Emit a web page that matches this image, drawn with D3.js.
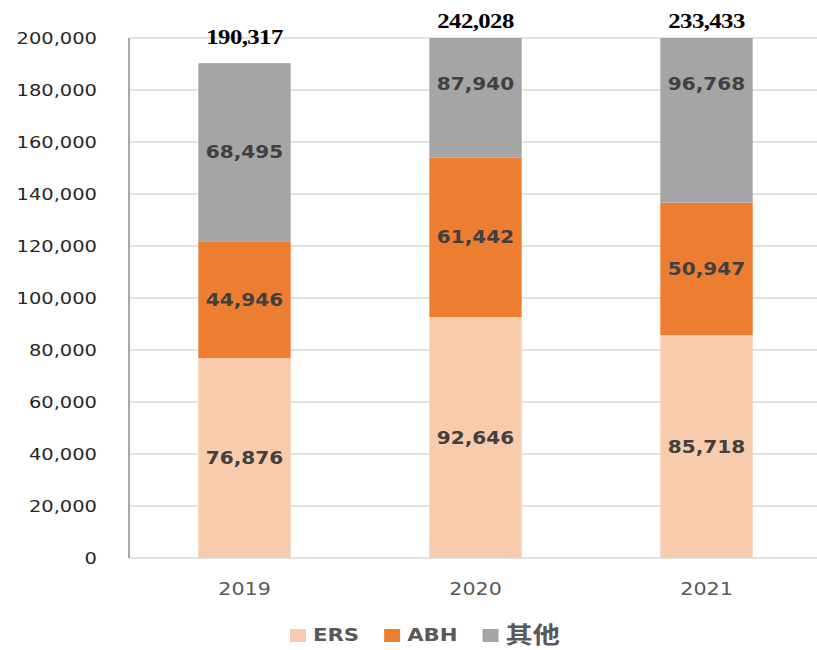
<!DOCTYPE html>
<html>
<head>
<meta charset="utf-8">
<script src="https://cdn.jsdelivr.net/npm/d3@7"></script>
<style>
  body { margin: 0; background: #fff; }
</style>
</head>
<body>
<script>
// data
const years = ['2019', '2020', '2021'];
const seriesNames = ['ERS', 'ABH', '其他'];
const ers = [76876, 92646, 85718];
const abh = [44946, 61442, 50947];
const other = [68495, 87940, 96768];
const totals = [190317, 242028, 233433];
const yTicks = [0, 20000, 40000, 60000, 80000, 100000, 120000, 140000, 160000, 180000, 200000];

const colors = ['#F8CBAD', '#ED7D31', '#A5A5A5'];
const sx = 1.18; // text in the picture is a bit wide

let width = 817, height = 650;
let plot = {left: 129, right: 822, top: 38, bottom: 558};

let svg = d3.select('body').append('svg')
    .attr('width', width)
    .attr('height', height);

let x = d3.scaleBand()
    .domain(years)
    .range([plot.left, plot.right])
    .paddingInner(0.6)
    .paddingOuter(0.3);

let y = d3.scaleLinear()
    .domain([0, 200000])
    .range([plot.bottom, plot.top]);

let fmt = d3.format(',');

// gridlines
svg.append('g').selectAll('line')
    .data(yTicks)
    .enter().append('line')
    .attr('x1', plot.left)
    .attr('x2', plot.right)
    .attr('y1', d => y(d))
    .attr('y2', d => y(d))
    .attr('stroke', '#d9d9d9')
    .attr('stroke-width', 1.5);

// y tick labels
svg.append('g').selectAll('text')
    .data(yTicks)
    .enter().append('text')
    .attr('transform', d => `translate(97,${y(d)}) scale(${sx},1)`)
    .attr('dy', '0.36em')
    .attr('text-anchor', 'end')
    .attr('font-family', 'DejaVu Sans, sans-serif')
    .attr('font-size', '16.5px')
    .attr('fill', '#262626')
    .text(d => fmt(d));

// stacked data
let rows = years.map((yr, i) => ({year: yr, ERS: ers[i], ABH: abh[i], '其他': other[i]}));
let stacked = d3.stack().keys(seriesNames)(rows);

svg.append('clipPath').attr('id', 'plotclip')
    .append('rect')
    .attr('x', plot.left)
    .attr('y', plot.top)
    .attr('width', plot.right - plot.left)
    .attr('height', plot.bottom - plot.top);

let bars = svg.append('g').attr('clip-path', 'url(#plotclip)');

let layers = bars.selectAll('g.layer')
    .data(stacked)
    .enter().append('g')
    .attr('class', 'layer')
    .attr('fill', (d, i) => colors[i]);

layers.selectAll('rect')
    .data(d => d)
    .enter().append('rect')
    .attr('x', d => x(d.data.year))
    .attr('y', d => y(d[1]))
    .attr('width', x.bandwidth())
    .attr('height', d => y(d[0]) - y(d[1]));

// y axis line
svg.append('line')
    .attr('x1', plot.left)
    .attr('x2', plot.left)
    .attr('y1', plot.top)
    .attr('y2', plot.bottom)
    .attr('stroke', '#8c8c8c')
    .attr('stroke-width', 1.5);

// segment labels
let labels = svg.append('g');
stacked.forEach((layer, li) => {
    labels.selectAll('text.l' + li)
        .data(layer)
        .enter().append('text')
        .attr('class', 'l' + li)
        .attr('transform', d => {
            let mid = Math.min((d[0] + d[1]) / 2, 182500);
            return `translate(${x(d.data.year) + x.bandwidth() / 2},${y(mid)}) scale(${sx},1)`;
        })
        .attr('dy', '0.36em')
        .attr('text-anchor', 'middle')
        .attr('font-family', 'DejaVu Sans, sans-serif')
        .attr('font-weight', 'bold')
        .attr('font-size', '17px')
        .attr('fill', '#404040')
        .text(d => fmt(d[1] - d[0]));
});

// totals
svg.append('g').selectAll('text')
    .data(totals)
    .enter().append('text')
    .attr('transform', (d, i) => `translate(${x(years[i]) + x.bandwidth() / 2},${Math.max(y(d) - 19, 28)}) scale(${sx},1)`)
    .attr('text-anchor', 'middle')
    .attr('font-family', 'Liberation Serif, serif')
    .attr('font-weight', 'bold')
    .attr('font-size', '21px')
    .attr('letter-spacing', '-0.5px')
    .attr('fill', '#000')
    .text(d => fmt(d));

// x labels
svg.append('g').selectAll('text')
    .data(years)
    .enter().append('text')
    .attr('transform', d => `translate(${x(d) + x.bandwidth() / 2},589) scale(${sx},1)`)
    .attr('dy', '0.36em')
    .attr('text-anchor', 'middle')
    .attr('font-family', 'DejaVu Sans, sans-serif')
    .attr('font-size', '17.5px')
    .attr('fill', '#595959')
    .text(d => d);

// legend
let legend = svg.append('g');
let lx = 290;
seriesNames.forEach((name, i) => {
    legend.append('rect')
        .attr('x', lx)
        .attr('y', 629)
        .attr('width', 16)
        .attr('height', 13)
        .attr('fill', colors[i]);
    let t = legend.append('text')
        .attr('transform', `translate(${lx + 23},635) scale(${sx},1)`)
        .attr('dy', '0.36em')
        .attr('font-family', i === 2 ? 'Noto Sans CJK SC, sans-serif' : 'DejaVu Sans, sans-serif')
        .attr('font-weight', 'bold')
        .attr('font-size', i === 2 ? '23px' : '18px')
        .attr('fill', '#595959')
        .text(name);
    lx += 23 + t.node().getComputedTextLength() * sx + 25;
});
</script>
</body>
</html>
